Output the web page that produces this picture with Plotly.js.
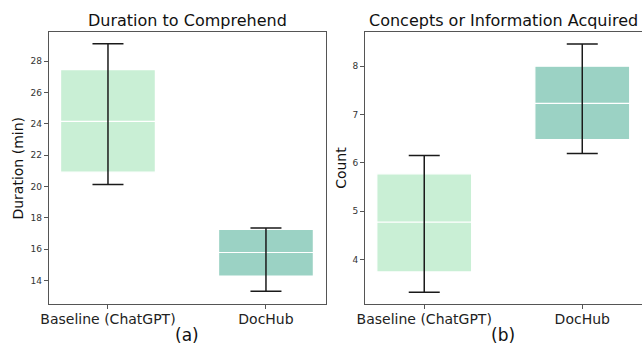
<!DOCTYPE html>
<html>
<head>
<meta charset="utf-8">
<script src="https://cdn.plot.ly/plotly-3.0.1.min.js"></script>
<style>html,body{margin:0;padding:0;background:#fff;}#chart{width:642px;height:347px;}</style>
</head>
<body>
<div id="chart"></div>
<script>
// Categories
const categories = ["Baseline (ChatGPT)", "DocHub"];
const fillColors = ["#c9efd5", "#9bd2c4"];

// (a) Duration to Comprehend (min)
const durQ1 = [20.91, 14.27];
const durMedian = [24.16, 15.78];
const durQ3 = [27.47, 17.26];
const durLower = [20.13, 13.30];
const durUpper = [29.12, 17.35];

// (b) Concepts or Information Acquired (count)
const conQ1 = [3.74, 6.48];
const conMedian = [4.77, 7.23];
const conQ3 = [5.77, 8.00];
const conLower = [3.32, 6.19];
const conUpper = [6.15, 8.46];

const traces = [];
function addPanel(q1, med, q3, lo, hi, xa, ya) {
  categories.forEach((c, i) => {
    traces.push({
      type: "box", x: [c], q1: [q1[i]], median: [med[i]], q3: [q3[i]],
      lowerfence: [q1[i]], upperfence: [q3[i]],
      width: 0.6, fillcolor: fillColors[i],
      line: {color: "#ffffff", width: 1.2},
      boxpoints: false, xaxis: xa, yaxis: ya, showlegend: false, hoverinfo: "skip"
    });
  });
  traces.push({
    type: "scatter", mode: "markers", x: categories, y: med,
    marker: {size: 1, opacity: 0},
    error_y: {
      type: "data", symmetric: false,
      array: hi.map((v, i) => v - med[i]),
      arrayminus: med.map((v, i) => v - lo[i]),
      color: "#1a1a1a", thickness: 1.5, width: 15.5
    },
    xaxis: xa, yaxis: ya, showlegend: false, hoverinfo: "skip"
  });
}
addPanel(durQ1, durMedian, durQ3, durLower, durUpper, "x", "y");
addPanel(conQ1, conMedian, conQ3, conLower, conUpper, "x2", "y2");

const font = "DejaVu Sans, sans-serif";
const xBase = {
  type: "category", range: [-0.375, 1.378], showline: true, mirror: true,
  linecolor: "#555", linewidth: 1, ticks: "outside", ticklen: 4, tickcolor: "#555",
  ticklabelstandoff: -2,
  tickfont: {family: font, size: 14, color: "#222"}, showgrid: false, zeroline: false
};
const yBase = {
  showline: true, mirror: true, linecolor: "#555", linewidth: 1,
  ticks: "outside", ticklen: 4, tickcolor: "#555",
  tickfont: {family: font, size: 9, color: "#333"}, showgrid: false, zeroline: false
};
const yDom = [0.1231, 0.9069];
const layout = {
  width: 642, height: 347,
  margin: {l: 0, r: 0, t: 0, b: 0},
  paper_bgcolor: "#fff", plot_bgcolor: "#fff",
  boxmode: "overlay",
  xaxis: Object.assign({}, xBase, {domain: [0.0759, 0.5073], anchor: "y"}),
  yaxis: Object.assign({}, yBase, {domain: yDom, anchor: "x", range: [12.47, 29.85], tickvals: [14,16,18,20,22,24,26,28]}),
  xaxis2: Object.assign({}, xBase, {domain: [0.5685, 1.0], anchor: "y2"}),
  yaxis2: Object.assign({}, yBase, {domain: yDom, anchor: "x2", range: [3.07, 8.70], tickvals: [4,5,6,7,8]}),
  annotations: [
    {text: "Duration to Comprehend", xref: "paper", yref: "paper", x: 0.2913, y: 0.9395, xanchor: "center", yanchor: "middle", showarrow: false, font: {family: font, size: 16, color: "#111"}},
    {text: "Concepts or Information Acquired", xref: "paper", yref: "paper", x: 0.7843, y: 0.9395, xanchor: "center", yanchor: "middle", showarrow: false, font: {family: font, size: 16, color: "#111"}},
    {text: "Duration (min)", xref: "paper", yref: "paper", x: 0.0285, y: 0.515, xanchor: "center", yanchor: "middle", textangle: -90, showarrow: false, font: {family: font, size: 14, color: "#111"}},
    {text: "Count", xref: "paper", yref: "paper", x: 0.532, y: 0.515, xanchor: "center", yanchor: "middle", textangle: -90, showarrow: false, font: {family: font, size: 14, color: "#111"}},
    {text: "(a)", xref: "paper", yref: "paper", x: 0.2908, y: 0.0, xanchor: "center", yanchor: "bottom", showarrow: false, font: {family: font, size: 17, color: "#111"}},
    {text: "(b)", xref: "paper", yref: "paper", x: 0.7835, y: 0.0, xanchor: "center", yanchor: "bottom", showarrow: false, font: {family: font, size: 17, color: "#111"}}
  ]
};
Plotly.newPlot("chart", traces, layout, {displayModeBar: false, staticPlot: true});
</script>
</body>
</html>
